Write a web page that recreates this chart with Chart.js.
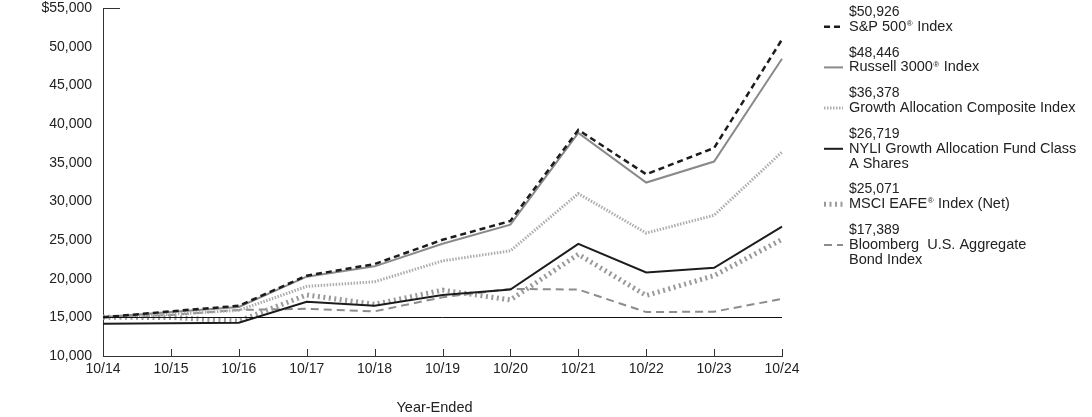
<!DOCTYPE html>
<html>
<head>
<meta charset="utf-8">
<script src="https://cdn.jsdelivr.net/npm/chart.js@4.4.0/dist/chart.umd.min.js"></script>
<style>
	html, body { margin: 0; padding: 0; background: #ffffff; }
	#wrap { position: relative; width: 1092px; height: 417px; }
</style>
</head>
<body>
<div id="wrap"><canvas id="growthChart" width="1092" height="417"></canvas></div>
<script>
const years = ["10/14", "10/15", "10/16", "10/17", "10/18", "10/19", "10/20", "10/21", "10/22", "10/23", "10/24"];

const sp500 = [15000, 15780, 16492, 20389, 21888, 25024, 27454, 39234, 33502, 36899, 50926];
const russell3000 = [15000, 15674, 16338, 20256, 21593, 24506, 26993, 38843, 32426, 35143, 48446];
const compositeIndex = [15000, 15400, 15900, 19000, 19600, 22300, 23600, 31000, 25900, 28200, 36378];
const fundClassA = [14175, 14250, 14300, 17000, 16500, 17900, 18600, 24500, 20800, 21400, 26719];
const msciEafe = [15000, 14990, 14506, 17906, 16680, 18521, 17250, 23147, 17823, 20390, 25071];
const bloombergAgg = [15000, 15294, 15962, 16106, 15776, 17592, 18681, 18591, 15676, 15733, 17389];

const seriesNames = [
	["S&P 500® Index"],
	["Russell 3000® Index"],
	["Growth Allocation Composite Index"],
	["NYLI Growth Allocation Fund Class", "A Shares"],
	["MSCI EAFE® Index (Net)"],
	["Bloomberg  U.S. Aggregate", "Bond Index"]
];

const yTicks = [10000, 15000, 20000, 25000, 30000, 35000, 40000, 45000, 50000, 55000];
const baselineValue = 15000;
const xTitle = "Year-Ended";

const FONT = "'Liberation Sans', Arial, sans-serif";
const TEXT = "#222222";

function money(v) {
	return "$" + v.toLocaleString("en-US");
}

function drawRich(ctx, text, x, y, size) {
	const parts = text.split("®");
	let cx = x;
	parts.forEach(function (part, i) {
		ctx.font = size + "px " + FONT;
		ctx.fillText(part, cx, y);
		cx += ctx.measureText(part).width;
		if (i < parts.length - 1) {
			ctx.font = "8px " + FONT;
			ctx.fillText("®", cx + 0.5, y - 3);
			cx += ctx.measureText("®").width + 1;
		}
	});
}

const extrasPlugin = {
	id: "extras",
	afterDraw: function (chart) {
		const ctx = chart.ctx;
		const area = chart.chartArea;
		const xs = chart.scales.x;
		const ys = chart.scales.y;

		ctx.save();
		ctx.strokeStyle = "#111111";
		ctx.lineWidth = 1;

		// baseline at initial investment
		const by = Math.round(ys.getPixelForValue(baselineValue)) + 0.5;
		ctx.beginPath();
		ctx.moveTo(area.left, by);
		ctx.lineTo(area.right, by);
		ctx.stroke();

		// short tick at the top of the y axis
		const ty = Math.round(ys.getPixelForValue(ys.max)) + 0.5;
		ctx.strokeStyle = "#333333";
		ctx.beginPath();
		ctx.moveTo(area.left, ty);
		ctx.lineTo(area.left + 17, ty);
		ctx.stroke();

		// x ticks pointing up
		for (let i = 0; i < years.length; i++) {
			const px = Math.round(xs.getPixelForTick(i)) + 0.5;
			ctx.beginPath();
			ctx.moveTo(px, area.bottom - 7);
			ctx.lineTo(px, area.bottom);
			ctx.stroke();
		}

		ctx.fillStyle = TEXT;
		ctx.textBaseline = "middle";

		// axis title, sits a little left of centre
		ctx.textAlign = "center";
		ctx.font = "14.5px " + FONT;
		ctx.fillText(xTitle, (area.left + area.right) / 2 - 8, 408);

		// legend
		ctx.textAlign = "left";
		let y = 12;
		chart.data.datasets.forEach(function (ds, i) {
			const values = ds.data;
			drawRich(ctx, money(values[values.length - 1]), 849, y, 14);
			y += 14.7;
			ctx.save();
			ctx.strokeStyle = ds.borderColor;
			ctx.lineWidth = ds.borderWidth;
			ctx.setLineDash(ds.borderDash || []);
			ctx.beginPath();
			ctx.moveTo(824, y);
			ctx.lineTo(843, y);
			ctx.stroke();
			ctx.restore();
			seriesNames[i].forEach(function (line) {
				drawRich(ctx, line, 849, y, 14.5);
				y += 14.7;
			});
			y += 11.3;
		});
		ctx.restore();
	}
};

function lineSet(label, data, color, width, dash) {
	return {
		label: label,
		data: data,
		borderColor: color,
		borderWidth: width,
		borderDash: dash,
		pointRadius: 0,
		pointHoverRadius: 0,
		tension: 0,
		fill: false
	};
}

new Chart(document.getElementById("growthChart"), {
	type: "line",
	data: {
		labels: years,
		datasets: [
			lineSet(seriesNames[0].join(" "), sp500, "#1c1c1c", 2.5, [6, 4]),
			lineSet(seriesNames[1].join(" "), russell3000, "#8a8a8a", 2, []),
			lineSet(seriesNames[2].join(" "), compositeIndex, "#adadad", 3, [1.5, 1.5]),
			lineSet(seriesNames[3].join(" "), fundClassA, "#1c1c1c", 2, []),
			lineSet(seriesNames[4].join(" "), msciEafe, "#9a9a9a", 5, [2, 3.5]),
			lineSet(seriesNames[5].join(" "), bloombergAgg, "#8c8c8c", 2, [8, 5])
		]
	},
	options: {
		responsive: false,
		animation: false,
		events: [],
		layout: {
			padding: { left: 0, right: 310, top: 8, bottom: 0 }
		},
		plugins: {
			legend: { display: false },
			tooltip: { enabled: false }
		},
		scales: {
			x: {
				afterFit: function (scale) {
					scale.height = 61;
					scale.paddingLeft = 0;
					scale.paddingRight = 0;
				},
				grid: { display: false, drawTicks: false },
				border: { display: true, color: "#333333", width: 1 },
				ticks: {
					color: TEXT,
					font: { family: FONT, size: 14 },
					padding: 5,
					maxRotation: 0,
					autoSkip: false
				}
			},
			y: {
				min: yTicks[0],
				max: yTicks[yTicks.length - 1],
				afterBuildTicks: function (scale) {
					scale.ticks = yTicks.map(function (v) { return { value: v }; });
				},
				afterFit: function (scale) {
					scale.width = 103;
					scale.paddingTop = 0;
					scale.paddingBottom = 0;
				},
				grid: { display: false, drawTicks: false },
				border: { display: true, color: "#333333", width: 1 },
				ticks: {
					color: TEXT,
					font: { family: FONT, size: 14 },
					padding: 11,
					callback: function (value) {
						return value === yTicks[yTicks.length - 1] ? money(value) : value.toLocaleString("en-US");
					}
				}
			}
		}
	},
	plugins: [extrasPlugin]
});
</script>
</body>
</html>
